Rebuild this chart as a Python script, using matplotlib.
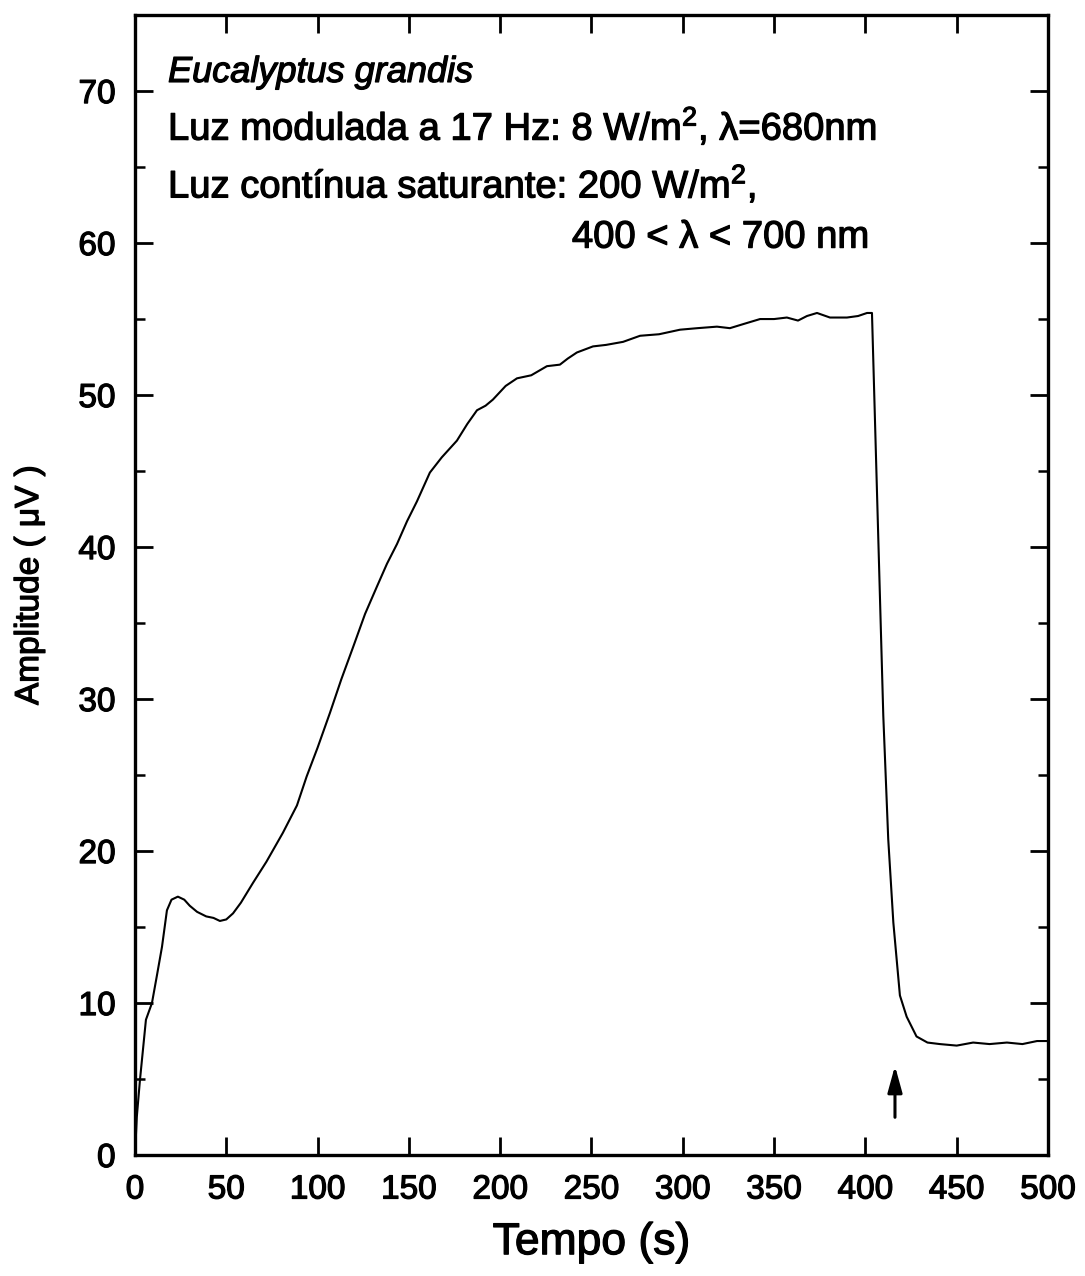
import matplotlib
matplotlib.use("Agg")
import matplotlib.pyplot as plt
import matplotlib.patheffects as pe
from matplotlib.ticker import MultipleLocator

plt.rcParams['font.family'] = ['Liberation Sans', 'DejaVu Sans']
plt.rcParams['mathtext.fontset'] = 'custom'
plt.rcParams['mathtext.rm'] = 'Liberation Sans'
plt.rcParams['mathtext.it'] = 'Liberation Sans:italic'

# ---- data ----
tempo = [0, 1, 2.7, 6, 9.3, 12, 14.8, 17.5, 20, 23.5, 27, 30, 34, 39, 43, 46.5, 50,
         53.7, 58, 64.6, 72, 81, 88.7, 94, 100, 106.8, 113, 119.4, 126, 132.5, 138,
         143.5, 149, 154.4, 161.5, 168, 176.3, 182, 187.3, 192, 196, 203, 209.2, 217,
         225.6, 232.7, 237, 242, 250.8, 258, 267.3, 276.6, 287, 298.5, 308, 318.7,
         325.8, 334, 342.3, 350, 357, 363.1, 368, 373.5, 380.6, 389.9, 396, 400.9,
         403.6, 406, 409.8, 412.5, 415.3, 418.9, 422.6, 428, 434, 440.8, 450, 459,
         468, 477.5, 486, 494, 500]
amplitude = [0, 2.5, 4.9, 8.9, 10.0, 11.8, 13.7, 16.1, 16.8, 17.0, 16.8, 16.4, 16.0,
             15.7, 15.6, 15.4, 15.5, 15.9, 16.6, 17.9, 19.3, 21.2, 23.0, 24.9, 26.8,
             29.1, 31.3, 33.4, 35.6, 37.4, 38.9, 40.2, 41.7, 43.0, 44.9, 45.9, 47.0,
             48.1, 49.0, 49.3, 49.7, 50.6, 51.1, 51.3, 51.9, 52.0, 52.4, 52.8, 53.2,
             53.3, 53.5, 53.9, 54.0, 54.3, 54.4, 54.5, 54.4, 54.7, 55.0, 55.0, 55.1,
             54.9, 55.2, 55.4, 55.1, 55.1, 55.2, 55.4, 55.4, 45.1, 28.9, 20.8, 15.3,
             10.5, 9.1, 7.8, 7.4, 7.3, 7.2, 7.4, 7.3, 7.4, 7.3, 7.5, 7.5]

x_ticks = [0, 50, 100, 150, 200, 250, 300, 350, 400, 450, 500]
y_ticks = [0, 10, 20, 30, 40, 50, 60, 70]
arrow_x = 416.2
arrow_y = (2.3, 6.05)

thick = [pe.withStroke(linewidth=0.9, foreground='black')]

fig = plt.figure(figsize=(10.85, 12.76), dpi=100)
ax = fig.add_axes([0.1244, 0.0948, 0.8415, 0.8934])

ax.plot(tempo, amplitude, color='black', lw=1.5)

ax.set_xlim(0, 500)
ax.set_ylim(0, 75)
ax.set_xticks(x_ticks)
ax.set_yticks(y_ticks)
ax.yaxis.set_minor_locator(MultipleLocator(5))

for s in ax.spines.values():
    s.set_linewidth(2.4)

ax.tick_params(which='major', direction='in', length=13, width=2.0,
               top=True, right=True, labelsize=24, pad=14)
ax.tick_params(which='minor', direction='in', length=7, width=1.8,
               top=False, right=True, left=True)
for lab in ax.get_xticklabels() + ax.get_yticklabels():
    lab.set_path_effects(thick)

ax.set_xlabel('Tempo (s)', fontsize=32, labelpad=12, path_effects=thick)
ax.set_ylabel('Amplitude ( \u03bcV )', fontsize=24, labelpad=24, path_effects=thick)

# annotations
ax.text(18.1, 70.6, 'Eucalyptus grandis', fontsize=26, style='italic',
        ha='left', va='baseline', path_effects=thick)
ax.text(18.1, 66.8, 'Luz modulada a 17 Hz: 8 W/m$^{2}$, \u03bb=680nm', fontsize=27.5,
        ha='left', va='baseline', path_effects=thick)
ax.text(18.1, 63.0, 'Luz cont\u00ednua saturante: 200 W/m$^{2}$,', fontsize=27.5,
        ha='left', va='baseline', path_effects=thick)
ax.text(239.3, 59.7, '400 < \u03bb < 700 nm', fontsize=27.5, ha='left', va='baseline',
        path_effects=thick)

ax.annotate('', xy=(arrow_x, arrow_y[1]), xytext=(arrow_x, arrow_y[0]),
            arrowprops=dict(arrowstyle='-|>,head_length=0.8,head_width=0.22',
                            lw=2.2, color='black', mutation_scale=20))

fig.savefig('out.png', dpi=100)
